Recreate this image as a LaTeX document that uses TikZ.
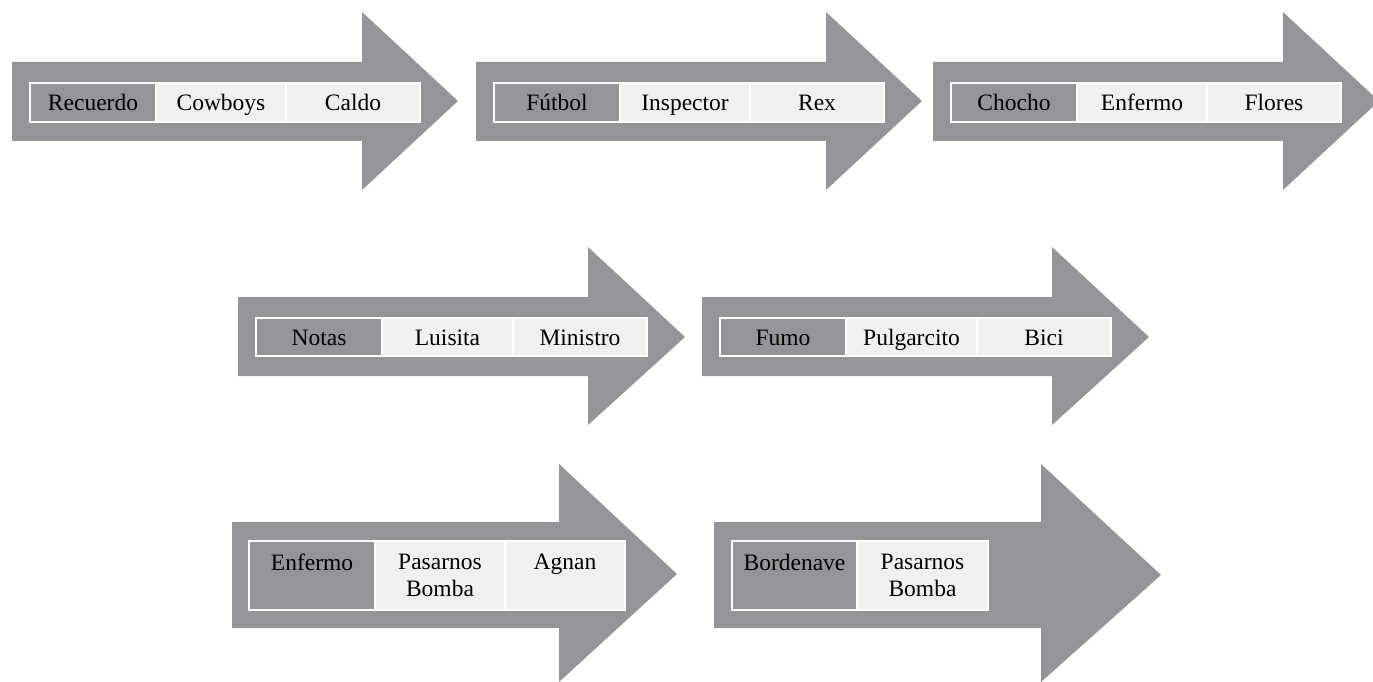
\documentclass[tikz,border=0pt]{standalone}
\usepackage{fontspec}
\setmainfont{Liberation Serif}
\definecolor{agray}{RGB}{147,149,152}
\definecolor{lgray}{RGB}{240,240,240}
\tikzset{
  arrowbody/.style={fill=agray},
  cellbase/.style={draw=white, line width=2pt, inner sep=0pt, anchor=north west,
    font=\fontsize{23.5}{27}\selectfont, text=black, align=center},
  darkcell/.style={cellbase, fill=agray},
  lightcell/.style={cellbase, fill=lgray},
  oneline/.style={text height=16pt, text depth=0pt},
}
\begin{document}
\begin{tikzpicture}[x=1pt,y=-1pt]
\useasboundingbox (0,0) rectangle (1373,682);
\clip (0,0) rectangle (1373,682);
% arrows
\fill[arrowbody] (12,62) -- (362,62) -- (362,12) -- (458,101) -- (362,190) -- (362,141) -- (12,141) -- cycle;
\fill[arrowbody] (476,62) -- (826,62) -- (826,12) -- (922,101) -- (826,190) -- (826,141) -- (476,141) -- cycle;
\fill[arrowbody] (933,62) -- (1283,62) -- (1283,12) -- (1379,101) -- (1283,190) -- (1283,141) -- (933,141) -- cycle;
\fill[arrowbody] (238,297) -- (588,297) -- (588,247) -- (685,337) -- (588,425) -- (588,376) -- (238,376) -- cycle;
\fill[arrowbody] (702,297) -- (1052,297) -- (1052,247) -- (1149,337) -- (1052,425) -- (1052,376) -- (702,376) -- cycle;
\fill[arrowbody] (232,522) -- (559,522) -- (559,464) -- (677,574) -- (559,682) -- (559,628) -- (232,628) -- cycle;
\fill[arrowbody] (714,522) -- (1041,522) -- (1041,464) -- (1161,575) -- (1041,682) -- (1041,628) -- (714,628) -- cycle;
% row 1
\node[darkcell, oneline, minimum width=126, minimum height=39] (a1) at (29,82) {Recuerdo};
\node[lightcell, oneline, minimum width=130, minimum height=39] (a2) at (155,82) {Cowboys};
\node[lightcell, oneline, minimum width=134, minimum height=39] (a3) at (285,82) {Caldo};
\node[darkcell, oneline, minimum width=126, minimum height=39] (b1) at (493,82) {Fútbol};
\node[lightcell, oneline, minimum width=130, minimum height=39] (b2) at (619,82) {Inspector};
\node[lightcell, oneline, minimum width=134, minimum height=39] (b3) at (749,82) {Rex};
\node[darkcell, oneline, minimum width=126, minimum height=39] (c1) at (950,82) {Chocho};
\node[lightcell, oneline, minimum width=130, minimum height=39] (c2) at (1076,82) {Enfermo};
\node[lightcell, oneline, minimum width=134, minimum height=39] (c3) at (1206,82) {Flores};
% row 2
\node[darkcell, oneline, minimum width=126, minimum height=38] (d1) at (255,317) {Notas};
\node[lightcell, oneline, minimum width=131, minimum height=38] (d2) at (381,317) {Luisita};
\node[lightcell, oneline, minimum width=134, minimum height=38] (d3) at (512,317) {Ministro};
\node[darkcell, oneline, minimum width=126, minimum height=38] (e1) at (719,317) {Fumo};
\node[lightcell, oneline, minimum width=131, minimum height=38] (e2) at (845,317) {Pulgarcito};
\node[lightcell, oneline, minimum width=134, minimum height=38] (e3) at (976,317) {Bici};
% row 3
\node[darkcell, minimum width=126, minimum height=69] (f1) at (248,540) {Enfermo\\\mbox{}};
\node[lightcell, minimum width=130, minimum height=69] (f2) at (374,540) {Pasarnos\\Bomba};
\node[lightcell, minimum width=120, minimum height=69] (f3) at (504,540) {Agnan\\\mbox{}};
\node[darkcell, minimum width=125, minimum height=69] (g1) at (731,540) {Bordenave\\\mbox{}};
\node[lightcell, minimum width=131, minimum height=69] (g2) at (856,540) {Pasarnos\\Bomba};
\end{tikzpicture}
\end{document}
